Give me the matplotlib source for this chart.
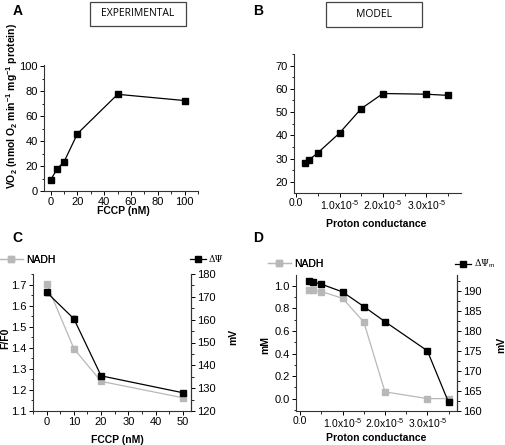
import matplotlib
matplotlib.use("Agg")
import matplotlib.pyplot as plt
from matplotlib.ticker import MultipleLocator, FuncFormatter
from matplotlib.patches import Rectangle
from matplotlib.lines import Line2D

plt.rcParams['font.family'] = ['Liberation Sans', 'DejaVu Sans']
plt.rcParams['font.size'] = 7
plt.rcParams['mathtext.fontset'] = 'custom'
plt.rcParams['mathtext.rm'] = 'Liberation Sans'
plt.rcParams['mathtext.bf'] = 'Liberation Sans:bold'

# ---------------- data ----------------
fccp_a = [0, 5, 10, 20, 50, 100]
vo2_a = [9, 18, 23.5, 46, 77.5, 72.5]

gh_b = [2e-6, 3e-6, 5e-6, 1e-5, 1.5e-5, 2e-5, 3e-5, 3.5e-5]
vo2_b = [28, 29.5, 32.5, 41, 51.5, 58, 57.7, 57.2]

fccp_c = [0, 10, 20, 50]
nadh_c = [1.705, 1.397, 1.241, 1.163]
nadh_c_err = [0.008, 0.012, 0.006, 0.006]
psi_c = [172.0, 160.4, 135.4, 128.0]
psi_c_err = [1.2, 1.0, 1.0, 0.8]

gh_d = [2e-6, 3e-6, 5e-6, 1e-5, 1.5e-5, 2e-5, 3e-5, 3.5e-5]
nadh_d = [0.965, 0.96, 0.95, 0.89, 0.68, 0.06, 0.0, 0.0]
psi_d = [192.5, 192.25, 191.7, 189.75, 186.1, 182.3, 175.0, 162.1]

W, H = 506, 445
fig = plt.figure(figsize=(W / 100, H / 100), dpi=100)

def rect(l, t, r, b):
    return [l / W, 1 - b / H, (r - l) / W, (b - t) / H]

GRAY = '#b8b8b8'
TICKFS = 8
LABFS = 7.5

def style(ax, right=False):
    ax.spines['top'].set_visible(False)
    if not right:
        ax.spines['right'].set_visible(False)
    for s in ax.spines.values():
        s.set_linewidth(0.8)
        s.set_color('#333333')
    ax.tick_params(which='major', direction='out', length=3, width=0.7, pad=1.5, labelsize=TICKFS)
    ax.tick_params(which='minor', direction='out', length=1.8, width=0.6)

def sci(v, pos):
    if abs(v) < 1e-12:
        return '0.0'
    m = v / 1e-5
    return r'%.1fx10$^{\text{-}5}$' % m

# ---------------- A ----------------
axA = fig.add_axes(rect(44, 65, 198, 191))
axA.plot(fccp_a, vo2_a, '-s', color='black', lw=0.9, ms=4)
axA.set_xlim(-5, 110)
axA.set_ylim(0, 101)
axA.xaxis.set_major_locator(MultipleLocator(20))
axA.xaxis.set_minor_locator(MultipleLocator(10))
axA.yaxis.set_major_locator(MultipleLocator(20))
axA.yaxis.set_minor_locator(MultipleLocator(10))
style(axA)
fig.text(123 / W, 1 - 211 / H, 'FCCP (nM)', ha='center', va='center', fontweight='bold', fontsize=LABFS)
fig.text(12 / W, 1 - 106 / H, r'VO$_\mathbf{2}$ (nmol O$_\mathbf{2}$ min$^\mathbf{-1}$ mg$^\mathbf{-1}$ protein)',
         rotation=90, ha='center', va='center', fontweight='bold', fontsize=LABFS)

# ---------------- B ----------------
axB = fig.add_axes(rect(294, 54, 461, 193))
axB.plot(gh_b, vo2_b, '-s', color='black', lw=0.9, ms=4)
axB.set_xlim(-0.05e-5, 3.8e-5)
axB.xaxis.set_major_locator(MultipleLocator(1e-5))
axB.xaxis.set_minor_locator(MultipleLocator(0.5e-5))
axB.xaxis.set_major_formatter(FuncFormatter(sci))
axB.yaxis.set_major_locator(MultipleLocator(10))
axB.yaxis.set_minor_locator(MultipleLocator(5))
style(axB)
axB.tick_params(axis='x', which='major', pad=0.5, labelsize=7.5)
axB.set_ylim(15.2, 75)
fig.text(376 / W, 1 - 224 / H, 'Proton conductance', ha='center', va='center', fontweight='bold', fontsize=LABFS)

# ---------------- C ----------------
axC = fig.add_axes(rect(33, 274, 191, 411))
axC.errorbar(fccp_c, nadh_c, yerr=nadh_c_err, fmt='-s', color=GRAY, lw=0.9, ms=4,
             capsize=1.5, elinewidth=0.7)
axC.set_xlim(-5, 53)
axC.set_ylim(1.1, 1.752)
axC.xaxis.set_major_locator(MultipleLocator(10))
axC.xaxis.set_minor_locator(MultipleLocator(5))
axC.yaxis.set_major_locator(MultipleLocator(0.1))
axC.yaxis.set_minor_locator(MultipleLocator(0.05))
axC.yaxis.set_major_formatter(FuncFormatter(lambda v, p: '%.1f' % v))
style(axC, right=True)
axC2 = axC.twinx()
axC2.errorbar(fccp_c, psi_c, yerr=psi_c_err, fmt='-s', color='black', lw=0.9, ms=4,
              capsize=1.5, elinewidth=0.7)
axC2.set_ylim(120, 180)
axC2.yaxis.set_major_locator(MultipleLocator(10))
axC2.yaxis.set_minor_locator(MultipleLocator(5))
style(axC2, right=True)
axC2.spines['left'].set_visible(False)
axC2.spines['bottom'].set_visible(False)
fig.text(117 / W, 1 - 440 / H, 'FCCP (nM)', ha='center', va='center', fontweight='bold', fontsize=LABFS)
fig.text(5 / W, 1 - 338 / H, 'F/F0', rotation=90, ha='center', va='center', fontweight='bold', fontsize=LABFS)
fig.text(233 / W, 1 - 337 / H, 'mV', rotation=90, ha='center', va='center', fontweight='bold', fontsize=LABFS)

hC1 = Line2D([], [], color=GRAY, marker='s', lw=0.9, ms=4, label='NADH')
hC2 = Line2D([], [], color='black', marker='s', lw=0.9, ms=4, label='ΔΨ')
legC1 = axC.legend(handles=[hC1], loc='center left', bbox_to_anchor=(-33 / 158, 1 + 14 / 137),
                   frameon=False, handlelength=2.2, handletextpad=0.3, borderpad=0, borderaxespad=0,
                   fontsize=LABFS)
axC.add_artist(legC1)
axC2.legend(handles=[hC2], loc='center right', bbox_to_anchor=(1 + 32 / 158, 1 + 14 / 137),
            frameon=False, handlelength=1.8, handletextpad=0.3, borderpad=0, borderaxespad=0,
            prop={'family': 'DejaVu Serif', 'size': 6.5})

# ---------------- D ----------------
axD = fig.add_axes(rect(296, 275, 457, 411))
axD.plot(gh_d, nadh_d, '-s', color=GRAY, lw=0.9, ms=4)
axD.set_xlim(-0.1e-5, 3.7e-5)
axD.set_ylim(-0.11, 1.097)
axD.xaxis.set_major_locator(MultipleLocator(1e-5))
axD.xaxis.set_minor_locator(MultipleLocator(0.5e-5))
axD.xaxis.set_major_formatter(FuncFormatter(sci))
axD.yaxis.set_major_locator(MultipleLocator(0.2))
axD.yaxis.set_minor_locator(MultipleLocator(0.1))
axD.yaxis.set_major_formatter(FuncFormatter(lambda v, p: '%.1f' % v))
style(axD, right=True)
axD.tick_params(axis='x', which='major', pad=0.5, labelsize=7.5)
axD2 = axD.twinx()
axD2.plot(gh_d, psi_d, '-s', color='black', lw=0.9, ms=4)
axD2.set_ylim(159.9, 194)
axD2.yaxis.set_major_locator(MultipleLocator(5))
axD2.yaxis.set_minor_locator(MultipleLocator(2.5))
style(axD2, right=True)
axD2.spines['left'].set_visible(False)
axD2.spines['bottom'].set_visible(False)
fig.text(376 / W, 1 - 438 / H, 'Proton conductance', ha='center', va='center', fontweight='bold', fontsize=LABFS)
fig.text(265 / W, 1 - 345 / H, 'mM', rotation=90, ha='center', va='center', fontweight='bold', fontsize=LABFS)
fig.text(501 / W, 1 - 345 / H, 'mV', rotation=90, ha='center', va='center', fontweight='bold', fontsize=LABFS)

hD1 = Line2D([], [], color=GRAY, marker='s', lw=0.9, ms=4, label='NADH')
hD2 = Line2D([], [], color='black', marker='s', lw=0.9, ms=4, label=r'ΔΨ$_\mathrm{m}$')
legD1 = axD.legend(handles=[hD1], loc='center left', bbox_to_anchor=(-28 / 161, 1 + 11 / 136),
                   frameon=False, handlelength=2.2, handletextpad=0.3, borderpad=0, borderaxespad=0,
                   fontsize=LABFS)
axD.add_artist(legD1)
axD2.legend(handles=[hD2], loc='center right', bbox_to_anchor=(1 + 38 / 161, 1 + 11 / 136),
            frameon=False, handlelength=1.8, handletextpad=0.3, borderpad=0, borderaxespad=0,
            prop={'family': 'DejaVu Serif', 'size': 6.5})

# ---------------- panel letters & boxes ----------------
for lab, x, y in [('A', 18, 11), ('B', 258, 11), ('C', 17, 238), ('D', 258, 238)]:
    fig.text(x / W, 1 - y / H, lab, ha='center', va='center', fontweight='bold', fontsize=10)

for txt, l, t, r, b in [('EXPERIMENTAL', 90, 2, 186, 26), ('MODEL', 326, 2, 422, 27)]:
    fig.patches.append(Rectangle((l / W, 1 - b / H), (r - l) / W, (b - t) / H,
                                 transform=fig.transFigure, fill=False, lw=0.9, ec='#444444'))
    fig.text((l + r) / 2 / W, 1 - (t + b) / 2 / H, txt, ha='center', va='center', fontsize=7.5,
             family=['Open Sans', 'DejaVu Sans'])

fig.savefig('out.png', dpi=100)
